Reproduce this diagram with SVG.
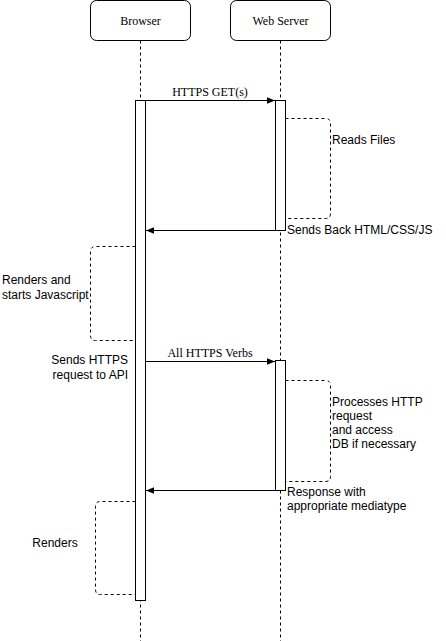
<svg xmlns="http://www.w3.org/2000/svg" width="446" height="641" viewBox="0 0 446 641">
<style>
.box{fill:#fff;stroke:#000;stroke-width:1}
.life{stroke:#000;stroke-width:1;stroke-dasharray:3 3;fill:none}
.act{fill:#fff;stroke:#000;stroke-width:1}
.msg{stroke:#000;stroke-width:1;fill:none}
.note{stroke:#000;stroke-width:1;stroke-dasharray:3 3;fill:none}
.ser{font-family:"Liberation Serif","Times New Roman",serif;font-size:12px;fill:#000}
.san{font-family:"Liberation Sans",Arial,sans-serif;font-size:12px;fill:#000}
</style>
<defs>
<marker id="ah" viewBox="0 0 10 10" refX="10" refY="5" markerWidth="8" markerHeight="8" markerUnits="userSpaceOnUse" orient="auto">
<path d="M0,1 L10,5 L0,9 Z" fill="#000"/>
</marker>
</defs>
<g id="browser">
<rect class="box" x="90.5" y="0.5" width="100" height="40" rx="6"/>
<text class="ser" x="140.5" y="25" text-anchor="middle">Browser</text>
<line class="life" x1="140.5" y1="40.5" x2="140.5" y2="641"/>
</g>
<g id="webserver">
<rect class="box" x="230.5" y="0.5" width="100" height="40" rx="6"/>
<text class="ser" x="280.5" y="25" text-anchor="middle">Web Server</text>
<line class="life" x1="280.5" y1="40.5" x2="280.5" y2="641"/>
</g>
<g id="browser-activation">
<rect class="act" x="135.5" y="100.5" width="10" height="500"/>
</g>
<g id="server-activation-1">
<rect class="act" x="275.5" y="100.5" width="10" height="130"/>
</g>
<g id="server-activation-2">
<rect class="act" x="275.5" y="360.5" width="10" height="130"/>
</g>
<g id="connectors">
<line class="msg" x1="145.5" y1="100.5" x2="275" y2="100.5" marker-end="url(#ah)"/>
<text class="ser" x="210" y="96" text-anchor="middle">HTTPS GET(s)</text>
<path class="note" d="M285.5,118.5 L325.5,118.5 Q330.5,118.5 330.5,123.5 L330.5,213.5 Q330.5,218.5 325.5,218.5 L285.5,218.5"/>
<line class="msg" x1="275.5" y1="230.5" x2="146" y2="230.5" marker-end="url(#ah)"/>
<path class="note" d="M135.5,246.5 L95.5,246.5 Q90.5,246.5 90.5,251.5 L90.5,335.5 Q90.5,340.5 95.5,340.5 L135.5,340.5"/>
<line class="msg" x1="145.5" y1="361.5" x2="275" y2="361.5" marker-end="url(#ah)"/>
<text class="ser" x="210" y="357" text-anchor="middle">All HTTPS Verbs</text>
<path class="note" d="M285.5,380.5 L325.5,380.5 Q330.5,380.5 330.5,385.5 L330.5,476.5 Q330.5,481.5 325.5,481.5 L285.5,481.5"/>
<line class="msg" x1="275.5" y1="490.5" x2="146" y2="490.5" marker-end="url(#ah)"/>
<path class="note" d="M135.5,501.5 L100.5,501.5 Q95.5,501.5 95.5,506.5 L95.5,589.5 Q95.5,594.5 100.5,594.5 L135.5,594.5"/>
</g>
<g id="labels">
<text class="san" x="332" y="144">Reads Files</text>
<text class="san" x="287" y="234">Sends Back HTML/CSS/JS</text>
<text class="san" x="2" y="284">Renders and</text>
<text class="san" x="2" y="299">starts Javascript</text>
<text class="san" x="128" y="364" text-anchor="end">Sends HTTPS</text>
<text class="san" x="128" y="379" text-anchor="end">request to API</text>
<text class="san" x="332" y="406">Processes HTTP</text>
<text class="san" x="332" y="420">request</text>
<text class="san" x="332" y="434">and access</text>
<text class="san" x="332" y="448">DB if necessary</text>
<text class="san" x="287" y="496">Response with</text>
<text class="san" x="287" y="510">appropriate mediatype</text>
<text class="san" x="55" y="547" text-anchor="middle">Renders</text>
</g>
</svg>
